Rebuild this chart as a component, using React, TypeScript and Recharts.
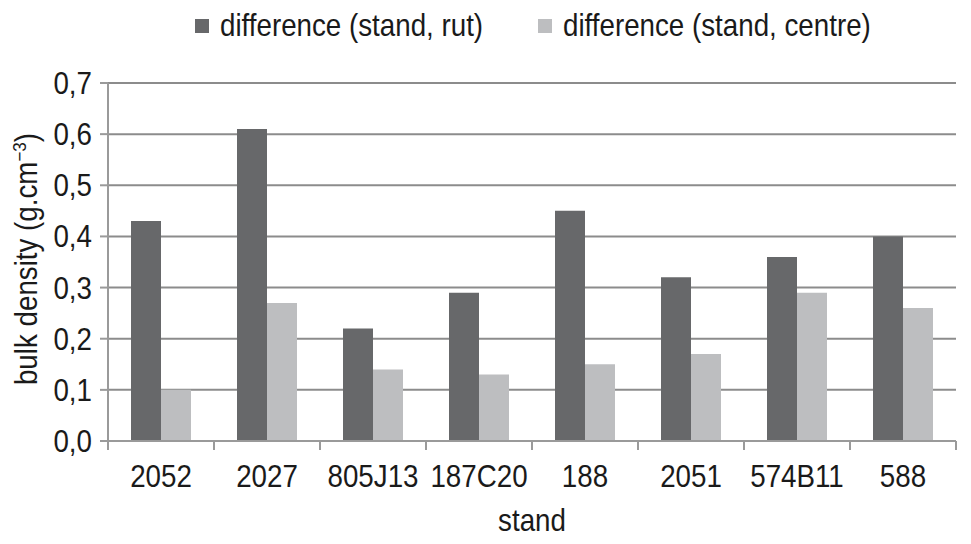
import React from "react";
import { Bar, BarChart, CartesianGrid, Legend, XAxis, YAxis } from "recharts";

const stands = ["2052", "2027", "805J13", "187C20", "188", "2051", "574B11", "588"];
const rutDiff = [0.43, 0.61, 0.22, 0.29, 0.45, 0.32, 0.36, 0.4];
const centreDiff = [0.1, 0.27, 0.14, 0.13, 0.15, 0.17, 0.29, 0.26];
const yTicks = [0, 0.1, 0.2, 0.3, 0.4, 0.5, 0.6, 0.7];

const data = stands.map((name, i) => ({
  name,
  rut: rutDiff[i],
  centre: centreDiff[i],
}));

const FONT = "'Liberation Sans', Arial, sans-serif";
const FS = 31;
const SQUEEZE = 0.895; // no condensed font installed, so squeeze text horizontally
const TEXT = "#1a1a1a";
const AXIS = "#9a9a9a";
const DARK = "#67686a";
const LIGHT = "#bdbec0";

const WIDTH = 971;
const HEIGHT = 544;
const Y_AXIS_W = 108;
const RIGHT = 15;
const LEGEND_H = 83;
const X_AXIS_H = 103;
const band = (WIDTH - Y_AXIS_W - RIGHT) / stands.length;
const axisY = HEIGHT - X_AXIS_H;

// condensed-looking text at (x, y)
const CText = ({ x, y, anchor = "middle", rotate = 0, size = FS, children }: any) => (
  <g transform={`translate(${x},${y}) rotate(${rotate}) scale(${SQUEEZE},1)`}>
    <text x={0} y={0} textAnchor={anchor} fontFamily={FONT} fontSize={size} fill={TEXT}>
      {children}
    </text>
  </g>
);

const CategoryTick = (props: any) => {
  const { x, payload, index } = props;
  const last = index === stands.length - 1;
  return (
    <g>
      <line x1={x - band / 2} x2={x - band / 2} y1={axisY} y2={axisY + 9} stroke={AXIS} strokeWidth={2} />
      {last && (
        <line x1={x + band / 2} x2={x + band / 2} y1={axisY} y2={axisY + 9} stroke={AXIS} strokeWidth={2} />
      )}
      <CText x={x} y={axisY + 46}>
        {payload.value}
      </CText>
    </g>
  );
};

const ValueTick = (props: any) => {
  const { x, y, payload } = props;
  return (
    <CText x={x} y={y + 11} anchor="end">
      {payload.value.toFixed(1).replace(".", ",")}
    </CText>
  );
};

const YLabel = (props: any) => {
  const { viewBox } = props;
  const cy = viewBox.y + viewBox.height / 2 - 3;
  return (
    <CText x={37} y={cy} rotate={-90}>
      bulk density (g.cm
      <tspan dy={-11} fontSize={19}>−3</tspan>
      <tspan dy={11}>)</tspan>
    </CText>
  );
};

const XLabel = (props: any) => {
  const { viewBox } = props;
  return (
    <CText x={viewBox.x + viewBox.width / 2} y={531}>
      stand
    </CText>
  );
};

const legendItems = [
  { label: "difference (stand, rut)", color: DARK, x: 195 },
  { label: "difference (stand, centre)", color: LIGHT, x: 538 },
];

const renderLegend = () => (
  <svg width={WIDTH} height={LEGEND_H} style={{ display: "block" }}>
    {legendItems.map((it) => (
      <g key={it.label}>
        <rect x={it.x} y={19} width={14} height={14} fill={it.color} />
        <CText x={it.x + 25} y={36} anchor="start">
          {it.label}
        </CText>
      </g>
    ))}
  </svg>
);

export default function App() {
  return (
    <div style={{ position: "absolute", left: 0, top: 0, background: "#fff" }}>
      <BarChart
        width={WIDTH}
        height={HEIGHT}
        data={data}
        margin={{ top: 0, right: RIGHT, left: 0, bottom: 0 }}
        barSize={30}
        barGap={0}
      >
        <CartesianGrid vertical={false} stroke="#8c8c8c" strokeWidth={2} />
        <XAxis
          dataKey="name"
          height={X_AXIS_H}
          stroke={AXIS}
          strokeWidth={2}
          tickLine={false}
          tick={<CategoryTick />}
          interval={0}
          label={<XLabel />}
        />
        <YAxis
          width={Y_AXIS_W}
          domain={[0, 0.7]}
          ticks={yTicks}
          interval={0}
          stroke={AXIS}
          strokeWidth={2}
          tickSize={8}
          tickMargin={8}
          tick={<ValueTick />}
          label={<YLabel />}
        />
        <Legend verticalAlign="top" content={renderLegend} height={LEGEND_H} />
        <Bar dataKey="rut" name="difference (stand, rut)" fill={DARK} isAnimationActive={false} />
        <Bar dataKey="centre" name="difference (stand, centre)" fill={LIGHT} isAnimationActive={false} />
      </BarChart>
    </div>
  );
}
